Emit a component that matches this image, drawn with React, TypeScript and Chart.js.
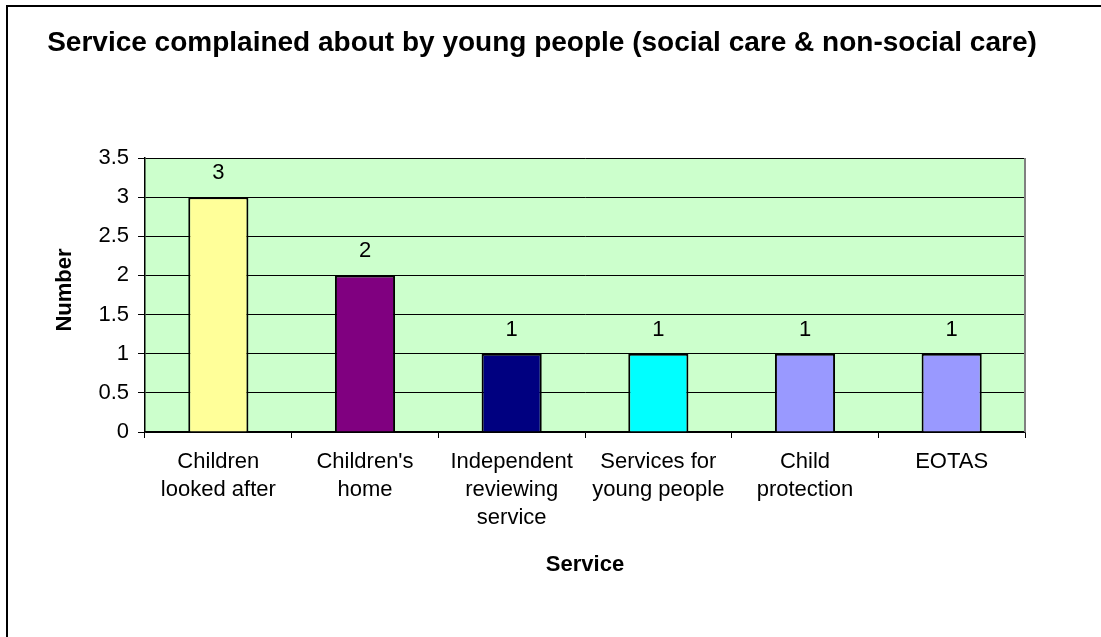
import React, { useEffect, useRef } from "react";
import { Chart, registerables } from "chart.js";

Chart.register(...registerables);

const chartTitle = "Service complained about by young people (social care & non-social care)";
const xAxisTitle = "Service";
const yAxisTitle = "Number";
const categories: string[][] = [
  ["Children", "looked after"],
  ["Children's", "home"],
  ["Independent", "reviewing", "service"],
  ["Services for", "young people"],
  ["Child", "protection"],
  ["EOTAS"],
];
const values = [3, 2, 1, 1, 1, 1];
const barColors = ["#FFFF99", "#800080", "#000080", "#00FFFF", "#9999FF", "#9999FF"];
const yMin = 0;
const yMax = 3.5;
const yStep = 0.5;

const FONT = "'Liberation Sans', Arial, sans-serif";

const decorPlugin = {
  id: "decor",
  beforeDraw(chart: any) {
    const { ctx, chartArea } = chart;
    ctx.save();
    ctx.fillStyle = "#CCFFCC";
    ctx.fillRect(chartArea.left, chartArea.top, chartArea.right - chartArea.left, chartArea.bottom - chartArea.top);
    ctx.restore();
  },
  afterDraw(chart: any) {
    const { ctx, chartArea } = chart;
    ctx.save();
    ctx.strokeStyle = "#808080";
    ctx.lineWidth = 2;
    ctx.beginPath();
    ctx.moveTo(chartArea.right, chartArea.top);
    ctx.lineTo(chartArea.right, chartArea.bottom);
    ctx.stroke();

    ctx.fillStyle = "#000";
    ctx.textAlign = "center";
    ctx.textBaseline = "middle";
    ctx.font = `bold 28px ${FONT}`;
    ctx.fillText(chartTitle, 542, 43);

    ctx.font = `bold 22px ${FONT}`;
    ctx.fillText(xAxisTitle, (chartArea.left + chartArea.right) / 2, 565);

    ctx.translate(65, 290);
    ctx.rotate(-Math.PI / 2);
    ctx.fillText(yAxisTitle, 0, 0);
    ctx.restore();
  },
  afterDatasetsDraw(chart: any) {
    const { ctx } = chart;
    const meta = chart.getDatasetMeta(0);
    ctx.save();
    ctx.fillStyle = "#000";
    ctx.textAlign = "center";
    ctx.textBaseline = "middle";
    ctx.font = `22px ${FONT}`;
    meta.data.forEach((el: any, i: number) => {
      ctx.fillText(String(values[i]), el.x, el.y - 24);
    });
    ctx.restore();
  },
};

export default function App() {
  const ref = useRef<HTMLCanvasElement | null>(null);
  useEffect(() => {
    if (!ref.current) return;
    const chart = new Chart(ref.current, {
      type: "bar",
      data: {
        labels: categories,
        datasets: [
          {
            data: values,
            backgroundColor: barColors,
            borderColor: "#000",
            borderWidth: 2,
            categoryPercentage: 1,
            barPercentage: 0.41,
          },
        ],
      },
      options: {
        animation: false,
        responsive: false,
        maintainAspectRatio: false,
        layout: { padding: { top: 158, right: 76, left: 0, bottom: 0 } },
        plugins: {
          legend: { display: false },
          tooltip: { enabled: false },
          title: { display: false },
        },
        scales: {
          x: {
            afterFit(scale: any) {
              scale.height = 637 - 432;
            },
            grid: {
              offset: true,
              drawOnChartArea: false,
              drawTicks: true,
              tickLength: 6,
              tickColor: "#000",
              tickWidth: 1,
            },
            border: { display: true, color: "#000", width: 1.5 },
            ticks: {
              color: "#000",
              font: { family: FONT, size: 22, lineHeight: 1.27 },
              padding: 10,
              maxRotation: 0,
              autoSkip: false,
            },
          },
          y: {
            min: yMin,
            max: yMax,
            afterFit(scale: any) {
              scale.width = 145;
            },
            grid: {
              color: "#000",
              lineWidth: 1,
              drawTicks: true,
              tickLength: 7,
              tickColor: "#000",
            },
            border: { display: true, color: "#000", width: 1.5 },
            ticks: {
              stepSize: yStep,
              color: "#000",
              font: { family: FONT, size: 22 },
              padding: 9,
              callback: (v: any) => String(Number(v)),
            },
          },
        },
      },
      plugins: [decorPlugin],
    });
    return () => chart.destroy();
  }, []);

  return (
    <div style={{ position: "fixed", left: 0, top: 0, width: 1101, height: 637, overflow: "hidden", background: "#fff" }}>
      <canvas ref={ref} width={1101} height={637} style={{ position: "absolute", left: 0, top: 0, width: 1101, height: 637 }} />
      <div
        style={{
          position: "absolute",
          left: 6,
          top: 5,
          width: 1200,
          height: 800,
          border: "2px solid #000",
          pointerEvents: "none",
        }}
      />
    </div>
  );
}
